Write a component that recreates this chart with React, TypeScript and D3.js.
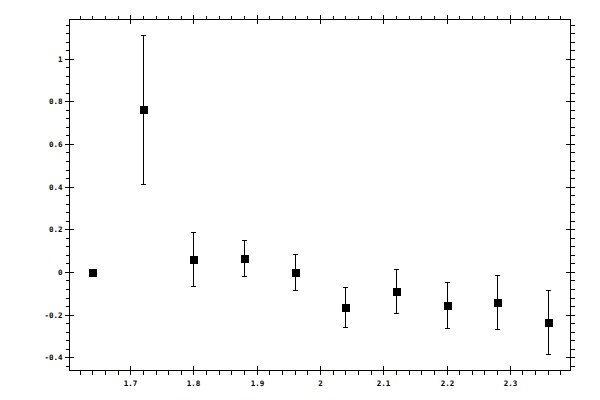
import React from 'react';
import * as d3 from 'd3';

// measurement points (x), values and symmetric errors
const xValues = [1.64, 1.72, 1.8, 1.88, 1.96, 2.04, 2.12, 2.2, 2.28, 2.36];
const yValues = [0, 0.762, 0.061, 0.066, 0.0, -0.165, -0.089, -0.155, -0.141, -0.235];
const yErrors = [0, 0.349, 0.126, 0.086, 0.085, 0.094, 0.103, 0.11, 0.127, 0.15];

const width = 600;
const height = 400;
const frame = { left: 69.5, right: 570.5, top: 19.5, bottom: 370.5 };

const pad = (lo: number, hi: number): [number, number] => {
  const p = (hi - lo) * 0.05;
  return [lo - p, hi + p];
};

const stepTicks = (domain: number[], step: number) => {
  const start = Math.ceil(domain[0] / step - 1e-9);
  const end = Math.floor(domain[1] / step + 1e-9);
  return d3.range(start, end + 1).map(i => +(i * step).toFixed(6));
};

const fmt = (v: number) => String(+v.toFixed(3));

export default function App() {
  const xExt = d3.extent(xValues) as [number, number];
  const yLo = d3.min(yValues.map((v, i) => v - yErrors[i])) as number;
  const yHi = d3.max(yValues.map((v, i) => v + yErrors[i])) as number;

  const x = d3.scaleLinear().domain(pad(xExt[0], xExt[1])).range([frame.left, frame.right]);
  const y = d3.scaleLinear().domain(pad(yLo, yHi)).range([frame.bottom, frame.top]);

  const xMajor = stepTicks(x.domain(), 0.1);
  const xMinor = stepTicks(x.domain(), 0.02).filter(t => !xMajor.some(m => Math.abs(m - t) < 1e-6));
  const yMajor = stepTicks(y.domain(), 0.2);
  const yMinor = stepTicks(y.domain(), 0.04).filter(t => !yMajor.some(m => Math.abs(m - t) < 1e-6));

  const px = (v: number) => Math.round(x(v)) + 0.5;
  const py = (v: number) => Math.floor(y(v)) + 0.5;

  const majorLen = 4.5;
  const minorLen = 4;

  return (
    <svg
      width={width}
      height={height}
      style={{ position: 'absolute', left: 0, top: 0, background: '#fff' }}
      shapeRendering="crispEdges"
    >
      <rect x={0} y={0} width={width} height={height} fill="#fff" />
      <g stroke="#000" strokeWidth={1} fill="none">
        <rect
          x={frame.left}
          y={frame.top}
          width={frame.right - frame.left}
          height={frame.bottom - frame.top}
        />
        {/* x ticks, bottom and top */}
        {xMajor.map(t => (
          <g key={'xm' + t}>
            <line x1={px(t)} x2={px(t)} y1={frame.bottom - majorLen} y2={frame.bottom + majorLen} />
            <line x1={px(t)} x2={px(t)} y1={frame.top - majorLen} y2={frame.top + majorLen} />
          </g>
        ))}
        {xMinor.map(t => (
          <g key={'xn' + t}>
            <line x1={px(t)} x2={px(t)} y1={frame.bottom} y2={frame.bottom + minorLen} />
            <line x1={px(t)} x2={px(t)} y1={frame.top - minorLen} y2={frame.top} />
          </g>
        ))}
        {/* y ticks, left and right */}
        {yMajor.map(t => (
          <g key={'ym' + t}>
            <line y1={py(t)} y2={py(t)} x1={frame.left - majorLen} x2={frame.left + majorLen} />
            <line y1={py(t)} y2={py(t)} x1={frame.right - majorLen} x2={frame.right + majorLen} />
          </g>
        ))}
        {yMinor.map(t => (
          <g key={'yn' + t}>
            <line y1={py(t)} y2={py(t)} x1={frame.left - minorLen} x2={frame.left} />
            <line y1={py(t)} y2={py(t)} x1={frame.right} x2={frame.right + minorLen} />
          </g>
        ))}
      </g>

      <g fontFamily="'DejaVu Sans Mono', monospace" fontSize={7.5} fontWeight="bold" fill="#000">
        {xMajor.map(t => (
          <text key={'xl' + t} x={px(t)} y={frame.bottom + 15} textAnchor="middle">
            {fmt(t)}
          </text>
        ))}
        {yMajor.map(t => (
          <text key={'yl' + t} x={frame.left - 7} y={py(t)} dy="0.35em" textAnchor="end">
            {fmt(t)}
          </text>
        ))}
      </g>

      {/* error bars */}
      <g stroke="#000" strokeWidth={1}>
        {xValues.map((xv, i) =>
          yErrors[i] > 0 ? (
            <g key={'e' + i}>
              <line x1={px(xv)} x2={px(xv)} y1={py(yValues[i] - yErrors[i])} y2={py(yValues[i] + yErrors[i])} />
              <line x1={px(xv) - 2.5} x2={px(xv) + 2.5} y1={py(yValues[i] + yErrors[i])} y2={py(yValues[i] + yErrors[i])} />
              <line x1={px(xv) - 2.5} x2={px(xv) + 2.5} y1={py(yValues[i] - yErrors[i])} y2={py(yValues[i] - yErrors[i])} />
            </g>
          ) : null
        )}
      </g>

      {/* square markers */}
      <g fill="#000">
        {xValues.map((xv, i) => (
          <rect key={'p' + i} x={px(xv) - 4} y={py(yValues[i]) - 4} width={8} height={8} />
        ))}
      </g>
    </svg>
  );
}
